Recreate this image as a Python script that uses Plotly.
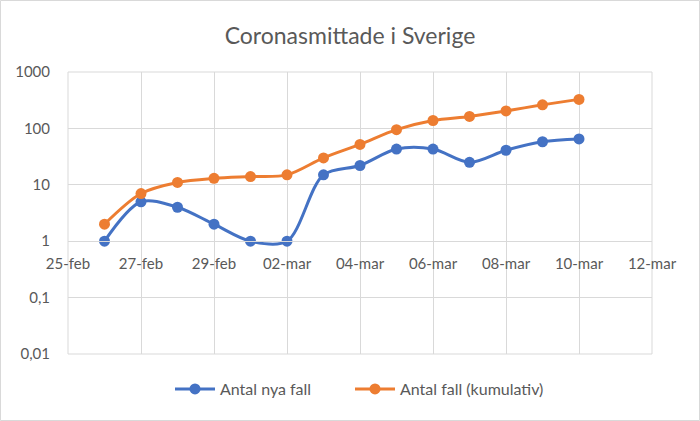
import plotly.graph_objects as go

dates = ["2020-02-26", "2020-02-27", "2020-02-28", "2020-02-29", "2020-03-01",
         "2020-03-02", "2020-03-03", "2020-03-04", "2020-03-05", "2020-03-06",
         "2020-03-07", "2020-03-08", "2020-03-09", "2020-03-10"]
nya_fall = [1, 5, 4, 2, 1, 1, 15, 22, 43, 43, 25, 41, 58, 65]
kumulativ = [2, 7, 11, 13, 14, 15, 30, 52, 95, 138, 163, 204, 262, 327]

x_tickvals = ["2020-02-25", "2020-02-27", "2020-02-29", "2020-03-02", "2020-03-04",
              "2020-03-06", "2020-03-08", "2020-03-10", "2020-03-12"]
x_ticktext = ["25-feb", "27-feb", "29-feb", "02-mar", "04-mar", "06-mar",
              "08-mar", "10-mar", "12-mar"]
y_tickvals = [0.01, 0.1, 1, 10, 100, 1000]
y_ticktext = ["0,01", "0,1", "1", "10", "100", "1000"]

BLUE = "#4472C4"
ORANGE = "#ED7D31"
GRID = "#D9D9D9"
TXT = "#595959"
FONT = "Lato, 'Open Sans', sans-serif"

fig = go.Figure()
fig.add_trace(go.Scatter(x=dates, y=nya_fall, name="Antal nya fall",
                         mode="lines+markers", legend="legend",
                         line=dict(color=BLUE, width=3, shape="spline", smoothing=0.9),
                         marker=dict(color=BLUE, size=11)))
fig.add_trace(go.Scatter(x=dates, y=kumulativ, name="Antal fall (kumulativ)",
                         mode="lines+markers", legend="legend2",
                         line=dict(color=ORANGE, width=3, shape="spline", smoothing=0.9),
                         marker=dict(color=ORANGE, size=11)))

L, R, T, B = 68, 48, 72, 67
W, H = 700, 421
pw, ph = W - L - R, H - T - B
leg_y = -(389 - (H - B)) / ph

legend_common = dict(orientation="h", xanchor="left", y=leg_y, yanchor="middle",
                     font=dict(size=16, color=TXT), itemwidth=40,
                     bgcolor="rgba(0,0,0,0)")

fig.update_layout(
    width=W, height=H,
    margin=dict(l=L, r=R, t=T, b=B, pad=0),
    paper_bgcolor="white", plot_bgcolor="white",
    font=dict(family=FONT, color=TXT, size=15),
    title=dict(text="Coronasmittade i Sverige", x=0.5, xanchor="center",
               y=1 - 36 / H, yanchor="middle",
               font=dict(size=23, color=TXT, family=FONT)),
    showlegend=True,
    legend=dict(x=(170 - L) / pw, **legend_common),
    legend2=dict(x=(350 - L) / pw, **legend_common),
    xaxis=dict(type="date", range=["2020-02-25", "2020-03-12"],
               tickvals=x_tickvals, ticktext=x_ticktext,
               showgrid=True, gridcolor=GRID, gridwidth=1,
               anchor="free", position=0.4,
               showline=True, linecolor=GRID, linewidth=1,
               ticks="outside", ticklen=9, tickcolor="rgba(0,0,0,0)",
               zeroline=False, tickfont=dict(size=15, color=TXT)),
    yaxis=dict(type="log", range=[-2, 3],
               tickvals=y_tickvals, ticktext=y_ticktext,
               showgrid=True, gridcolor=GRID, gridwidth=1,
               showline=False, zeroline=False,
               ticks="outside", ticklen=14, tickcolor="rgba(0,0,0,0)",
               tickfont=dict(size=15, color=TXT)),
    shapes=[
        dict(type="rect", xref="paper", yref="paper", x0=0, x1=1, y0=0, y1=1,
             line=dict(color=GRID, width=1), layer="below"),
        dict(type="rect", xref="paper", yref="paper",
             x0=(0.5 - L) / pw, x1=(W - 0.5 - L) / pw,
             y0=-(B - 0.5) / ph, y1=1 + (T - 0.5) / ph,
             line=dict(color=GRID, width=1), layer="below"),
    ],
)

fig.write_html("out.html")
